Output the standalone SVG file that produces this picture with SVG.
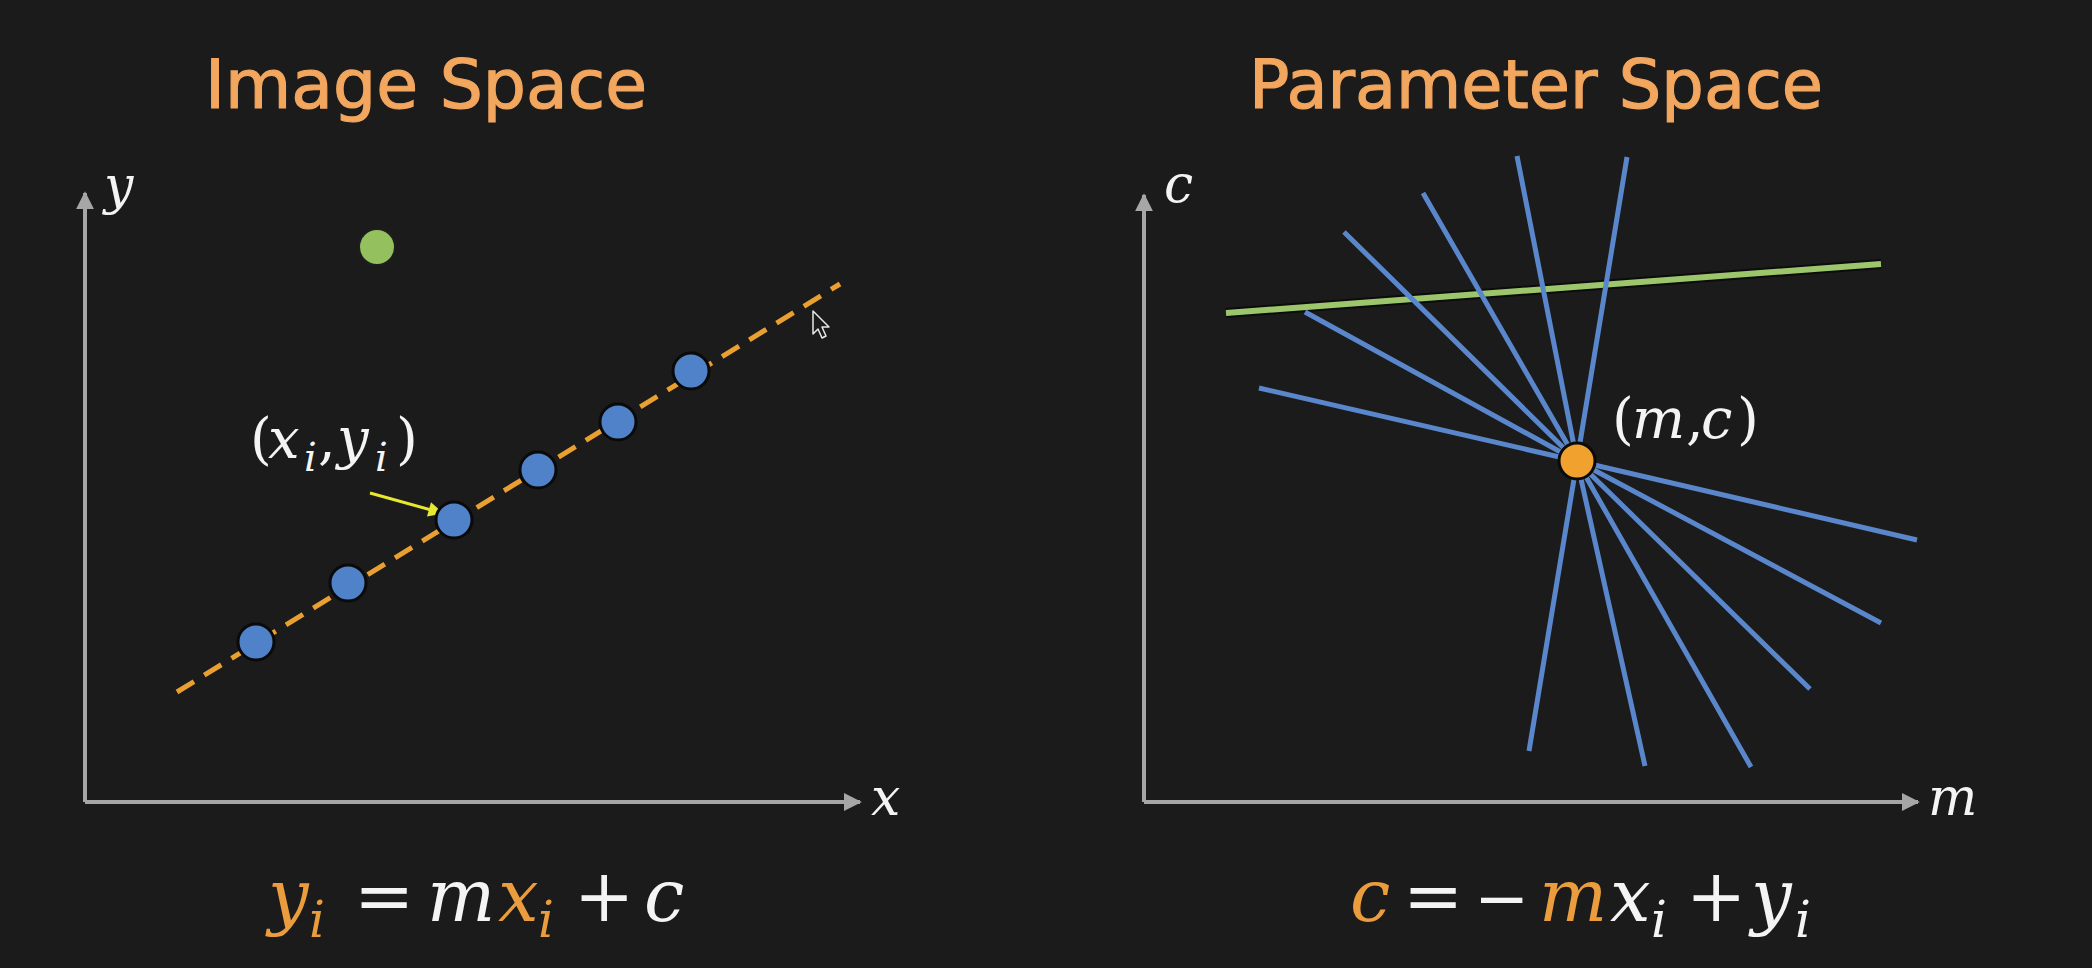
<svg xmlns="http://www.w3.org/2000/svg" width="2092" height="968" viewBox="0 0 2092 968">
<defs>
<style>
.title{font-family:"DejaVu Sans","Liberation Sans",sans-serif;font-size:68px;fill:#f2a65e;stroke:#f2a65e;stroke-width:1.2}
.math{font-family:"DejaVu Serif","Liberation Serif",serif;font-style:italic;fill:#f4f4f4}
.op{font-style:normal}
.or{fill:#eb9d3e}
.axis{stroke:#a6a6a6;stroke-width:4;fill:none}
.blue{stroke:#5a87cc;stroke-width:5;fill:none;stroke-linejoin:round}
</style>
<marker id="ah" viewBox="0 0 10 10" refX="9" refY="5" markerWidth="4.5" markerHeight="5" orient="auto" markerUnits="strokeWidth">
<path d="M0,0 L10,5 L0,10 Z" fill="#a6a6a6"/>
</marker>
<marker id="ya" viewBox="0 0 10 10" refX="9" refY="5" markerWidth="6" markerHeight="5" orient="auto" markerUnits="strokeWidth">
<path d="M0,0 L10,5 L0,10 Z" fill="#e6e832"/>
</marker>
</defs>
<rect width="2092" height="968" fill="#1b1b1b"/>

<g id="title-image"><text class="title" x="205" y="108" textLength="442" lengthAdjust="spacingAndGlyphs">Image Space</text></g>
<g id="title-param"><text class="title" x="1249" y="108" textLength="574" lengthAdjust="spacingAndGlyphs">Parameter Space</text></g>

<g id="axes-image">
<line class="axis" x1="85" y1="802" x2="860" y2="802" marker-end="url(#ah)"/>
<line class="axis" x1="85" y1="802" x2="85" y2="193" marker-end="url(#ah)"/>
<text class="math" x="104" y="203" font-size="52">y</text>
<text class="math" x="871" y="815" font-size="52">x</text>
</g>

<g id="axes-param">
<line class="axis" x1="1144" y1="802" x2="1918" y2="802" marker-end="url(#ah)"/>
<line class="axis" x1="1144" y1="802" x2="1144" y2="195" marker-end="url(#ah)"/>
<text class="math" x="1164" y="202" font-size="52">c</text>
<text class="math" x="1928" y="815" font-size="52">m</text>
</g>

<g id="connectors">
<line x1="177" y1="692" x2="840" y2="284" stroke="#e9a030" stroke-width="5" stroke-dasharray="20 12"/>
<line x1="370" y1="493" x2="442" y2="513" stroke="#e6e832" stroke-width="3" marker-end="url(#ya)"/>
<line x1="1226" y1="313" x2="1881" y2="264" stroke="#0c0c0c" stroke-width="10"/>
<line x1="1226" y1="313" x2="1881" y2="264" stroke="#9dc66c" stroke-width="6"/>
<g id="param-lines">
<polyline class="blue" points="1517,156 1577,461 1645,766"/>
<polyline class="blue" points="1627,157 1577,461 1529,751"/>
<polyline class="blue" points="1423,193 1577,461 1751,767"/>
<polyline class="blue" points="1344,232 1577,461 1810,689"/>
<polyline class="blue" points="1305,312 1577,461 1881,623"/>
<polyline class="blue" points="1259,388 1577,461 1917,540"/>
</g>
</g>

<g id="point-green"><circle cx="377" cy="247" r="18" fill="#94c05e" stroke="#1e1e1e" stroke-width="2"/></g>
<g id="points-blue" fill="#4f82c8" stroke="#0a0a0a" stroke-width="3">
<circle cx="256" cy="642" r="18"/>
<circle cx="348" cy="583" r="18"/>
<circle cx="454" cy="520" r="18"/>
<circle cx="538" cy="470" r="18"/>
<circle cx="618" cy="422" r="18"/>
<circle cx="691" cy="371" r="18"/>
</g>
<g id="point-mc"><circle cx="1577" cy="461" r="18" fill="#f0a12e" stroke="#0a0a0a" stroke-width="3"/></g>

<g id="label-xiyi">
<text class="math" font-size="56"><tspan class="op" x="250" y="458">(</tspan><tspan x="268" y="458">x</tspan><tspan x="304" y="471" font-size="40">i</tspan><tspan class="op" x="318" y="458">,</tspan><tspan x="337" y="458">y</tspan><tspan x="375" y="471" font-size="40">i</tspan><tspan class="op" x="396" y="458">)</tspan></text>
</g>
<g id="label-mc">
<text class="math" font-size="56"><tspan class="op" x="1612" y="438">(</tspan><tspan x="1632" y="438">m</tspan><tspan class="op" x="1686" y="438">,</tspan><tspan x="1701" y="438">c</tspan><tspan class="op" x="1737" y="438">)</tspan></text>
</g>

<g id="cursor"><path d="M813,311 L813,334 L818,329 L822,338 L826,336 L822,327 L829,327 Z" fill="#1b1b1b" stroke="#e8e8e8" stroke-width="1.5" stroke-linejoin="round"/></g>

<g id="formula-image">
<text class="math" font-size="72"><tspan class="or" x="268" y="921">y</tspan><tspan class="or" x="309" y="937" font-size="50">i</tspan><tspan class="op" x="354" y="921">=</tspan><tspan x="427" y="921">m</tspan><tspan class="or" x="498" y="921">x</tspan><tspan class="or" x="538" y="937" font-size="50">i</tspan><tspan class="op" x="574" y="921">+</tspan><tspan x="644" y="921">c</tspan></text>
</g>
<g id="formula-param">
<text class="math" font-size="72"><tspan class="or" x="1350" y="921">c</tspan><tspan class="op" x="1403" y="921">=</tspan><tspan class="op" x="1474" y="921" font-size="66">−</tspan><tspan class="or" x="1539" y="921">m</tspan><tspan x="1610" y="921">x</tspan><tspan x="1651" y="937" font-size="50">i</tspan><tspan class="op" x="1686" y="921">+</tspan><tspan x="1751" y="921">y</tspan><tspan x="1795" y="937" font-size="50">i</tspan></text>
</g>
</svg>
